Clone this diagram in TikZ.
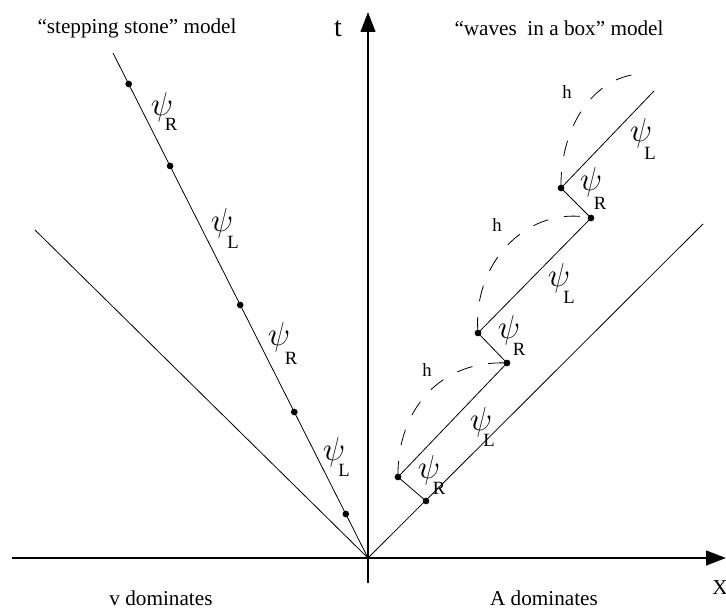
\documentclass[tikz,border=0pt]{standalone}
\usepackage{fontspec}
\setmainfont{Liberation Serif}
\usetikzlibrary{arrows.meta}
\begin{document}
\begin{tikzpicture}[x=0.75pt,y=-0.75pt,
  thinline/.style={line width=0.6pt},
  axis/.style={line width=1.8pt,-{Triangle[length=15pt,width=11pt]}},
  dot/.style={circle,fill,inner sep=0pt,minimum size=5pt},
  hcurve/.style={line width=0.6pt,dash pattern=on 12pt off 12pt},
  lbl/.style={font=\fontsize{15.9}{19}\selectfont,inner sep=0pt},
  subl/.style={font=\fontsize{14}{16}\selectfont,inner sep=0pt},
  psisym/.style={font=\fontsize{30}{32}\selectfont,inner sep=0pt}]
\useasboundingbox (0,0) rectangle (726,610);
% axes
\coordinate (O) at (368,558);
\coordinate (xs) at (12,558);
\coordinate (xe) at (726,558);
\coordinate (ts) at (368,583);
\coordinate (te) at (368,12);
\draw[axis] (xs) -- (xe);
\draw[axis] (ts) -- (te);
\node[font=\fontsize{21}{24}\selectfont,inner sep=0pt] (tl) at (338,29) {t};
\node[lbl] (xl) at (720,588) {X};
% left side
\coordinate (Lend) at (113,53);
\coordinate (Vend) at (35,230);
\draw[thinline] (O) -- (Lend);
\draw[thinline] (O) -- (Vend);
\node[dot] (s1) at (128.7,84) {};
\node[dot] (s2) at (170.1,166) {};
\node[dot] (s3) at (240.2,305) {};
\node[dot] (s4) at (294.3,412) {};
\node[dot] (s5) at (345.8,514) {};
% right side
\coordinate (Rend) at (703,224);
\draw[thinline] (O) -- (Rend);
\node[dot] (d1) at (426,501) {};
\node[dot] (d2) at (398,477) {};
\node[dot] (d3) at (507,363) {};
\node[dot] (d4) at (478,333) {};
\node[dot] (d5) at (591,218) {};
\node[dot] (d6) at (561,188) {};
\coordinate (d7) at (654,91);
\draw[thinline] (d1.center) -- (d2.center) -- (d3.center) -- (d4.center) -- (d5.center) -- (d6.center) -- (d7);
% dashed curves
\coordinate (hend) at (646,74);
\draw[hcurve] (d2.center) .. controls (397,410) and (440,360) .. (d3.center);
\draw[hcurve] (d4.center) .. controls (472,260) and (530,205) .. (d5.center);
\draw[hcurve] (d6.center) .. controls (560,120) and (600,72) .. (hend);
\node[subl] (h1) at (567,92) {h};
\node[subl] (h2) at (497,225) {h};
\node[subl] (h3) at (427,370) {h};
% psi labels
\node[psisym] (p1) at (162,107) {$\psi$}; \node[subl] (q1) at (171,124) {R};
\node[psisym] (p2) at (222,223) {$\psi$}; \node[subl] (q2) at (233,242) {L};
\node[psisym] (p3) at (279,337) {$\psi$}; \node[subl] (q3) at (291,358) {R};
\node[psisym] (p4) at (334,452) {$\psi$}; \node[subl] (q4) at (344,470) {L};
\node[psisym] (p5) at (641,133) {$\psi$}; \node[subl] (q5) at (650,153) {L};
\node[psisym] (p6) at (591,182) {$\psi$}; \node[subl] (q6) at (600,203) {R};
\node[psisym] (p7) at (559,278) {$\psi$}; \node[subl] (q7) at (569,297) {L};
\node[psisym] (p8) at (509,330) {$\psi$}; \node[subl] (q8) at (519,349) {R};
\node[psisym] (p9) at (481,422) {$\psi$}; \node[subl] (q9) at (489,440) {L};
\node[psisym] (p10) at (429,470) {$\psi$}; \node[subl] (q10) at (439,488) {R};
% titles
\node[lbl] (title1) at (137,28) {“stepping stone” model};
\node[lbl] (title2) at (559,28) {“waves\ \ in a box” model};
\node[lbl] (bot1) at (161,598) {v dominates};
\node[lbl] (bot2) at (544,598) {A dominates};
\end{tikzpicture}
\end{document}
